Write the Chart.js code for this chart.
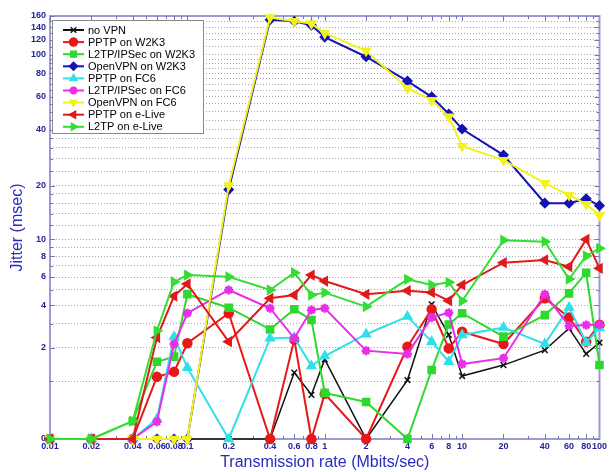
<!DOCTYPE html>
<html>
<head>
<meta charset="utf-8">
<script src="https://cdn.jsdelivr.net/npm/chart.js@4.4.0/dist/chart.umd.min.js"></script>
<style>
  html, body { margin: 0; padding: 0; background: #fff; }
</style>
</head>
<body>
<canvas id="chart" width="609" height="472"></canvas>
<script>
// Transmission rates (Mbits/sec)
const rates = [0.01, 0.02, 0.04, 0.06, 0.08, 0.1, 0.2, 0.4, 0.6, 0.8, 1, 2, 4, 6, 8, 10, 20, 40, 60, 80, 100];

// Jitter (msec) per setup
const noVpn       = [0, 0, 0, 0, 0, 0, 0, 0, 1.22, 0.7, 1.6, 0, 1.03, 4.04, 2.49, 1.13, 1.43, 1.91, 2.78, 1.78, 2.18];
const pptpW2k3    = [0, 0, 0, 1.11, 1.24, 2.16, 3.53, 0, 2.3, 0, 0.72, 0, 2.03, 3.75, 1.97, 2.63, 2.13, 4.42, 3.31, 2.22, 2.95];
const l2tpW2k3    = [0, 0, 0.24, 1.53, 1.69, 4.69, 3.84, 2.73, 3.75, 3.18, 0.74, 0.56, 0, 1.29, 2.96, 3.53, 2.42, 3.43, 4.75, 6.37, 1.43];
const openW2k3    = [0, 0, 0, 0, 0, 0, 19, 153, 150, 143, 124, 97.7, 72.7, 60, 48.6, 40.4, 29.3, 16, 16, 16.9, 15.5];
const pptpFc6     = [0, 0, 0, 0.27, 2.42, 1.35, 0, 2.35, 2.38, 1.4, 1.71, 2.52, 3.35, 2.22, 1.53, 2.49, 2.82, 2.13, 3.86, 2.18, 2.8];
const l2tpFc6     = [0, 0, 0, 0.23, 2.13, 3.53, 4.99, 3.81, 2.35, 3.71, 3.81, 1.89, 1.78, 3.31, 3.56, 1.46, 1.64, 4.69, 2.89, 2.93, 2.95];
const openFc6     = [0, 0, 0, 0, 0, 0, 20, 157, 150, 146, 130, 105, 66.5, 57.6, 47, 32.7, 27.5, 20.6, 17.7, 15.8, 13.7];
const pptpELive   = [0, 0, 0, 2.38, 4.57, 5.44, 2.22, 4.42, 4.64, 6.17, 5.67, 4.69, 4.94, 4.82, 4.27, 5.36, 7.31, 7.59, 6.92, 10, 6.77];
const l2tpELive   = [0, 0, 0.24, 2.67, 5.6, 6.17, 6.02, 4.99, 6.37, 4.64, 4.8, 3.9, 5.81, 5.36, 5.57, 4.25, 9.9, 9.7, 5.83, 8.01, 8.88];

// Axis ticks
const xTicks = [0.01, 0.02, 0.04, 0.06, 0.08, 0.1, 0.2, 0.4, 0.6, 0.8, 1, 2, 4, 6, 8, 10, 20, 40, 60, 80, 100];
const yLabels = [0, 2, 4, 6, 8, 10, 20, 40, 60, 80, 100, 120, 140, 160];
const yGrid = [0, 1, 2, 3, 4, 5, 6, 7, 8, 9, 10, 12, 14, 16, 18, 20, 24, 28, 32, 36, 40,
               45, 50, 55, 60, 65, 70, 75, 80, 85, 90, 95, 100, 110, 120, 130, 140, 150, 160];

const labelBlue = '#24249a';
const titleBlue = '#2a2ac0';
const frameBlue = '#9c9cd4';

// y axis in the original is log10(jitter + 1), so 0 sits on the bottom edge
class Log1pScale extends Chart.Scale {
  static id = 'log1p';
  static defaults = {};

  determineDataLimits() {
    this.min = this.options.min ?? 0;
    this.max = this.options.max ?? 160;
  }

  buildTicks() {
    return yGrid.map(v => ({ value: v }));
  }

  getLabelForValue(value) {
    return String(value);
  }

  configure() {
    super.configure();
    this._lo = Math.log10(this.min + 1);
    this._hi = Math.log10(this.max + 1);
  }

  getPixelForValue(value) {
    return this.getPixelForDecimal((Math.log10(value + 1) - this._lo) / (this._hi - this._lo));
  }

  getValueForPixel(pixel) {
    return Math.pow(10, this._lo + this.getDecimalForPixel(pixel) * (this._hi - this._lo)) - 1;
  }
}
Chart.register(Log1pScale);

const makeSet = (label, data, color, style, rotation, extra) => Object.assign({
  label: label,
  data: data,
  borderColor: color,
  backgroundColor: color,
  pointBackgroundColor: color,
  pointBorderColor: color,
  borderWidth: 2,
  pointStyle: style,
  pointRotation: rotation,
  pointRadius: 4.5,
  pointBorderWidth: 1.5,
  tension: 0,
  clip: false
}, extra || {});

const datasets = [
  makeSet('no VPN', noVpn, '#111111', 'crossRot', 0, { borderWidth: 1.5, pointRadius: 4 }),
  makeSet('PPTP on W2K3', pptpW2k3, '#e81818', 'circle', 0),
  makeSet('L2TP/IPSec on W2K3', l2tpW2k3, '#2ed82e', 'rect', 0, { pointRadius: 5 }),
  makeSet('OpenVPN on W2K3', openW2k3, '#1414b4', 'rectRot', 0),
  makeSet('PPTP on FC6', pptpFc6, '#2ee0e8', 'triangle', 0, { pointRadius: 5 }),
  makeSet('L2TP/IPSec on FC6', l2tpFc6, '#e82ee8', 'star', 0, { pointBorderWidth: 2.5 }),
  makeSet('OpenVPN on FC6', openFc6, '#f2f21e', 'triangle', 180, { pointRadius: 5 }),
  makeSet('PPTP on e-Live', pptpELive, '#e01a1a', 'triangle', -90, { pointRadius: 5 }),
  makeSet('L2TP on e-Live', l2tpELive, '#34dc34', 'triangle', 90, { pointRadius: 5 })
];
// later series are drawn over earlier ones, as in the original
datasets.forEach((ds, i) => { ds.order = -i; });

// frame with tick marks, and the boxed legend inside the plot
const framePlugin = {
  id: 'frame',
  beforeDatasetsDraw(chart) {
    const { ctx, chartArea: a, scales } = chart;
    ctx.save();
    ctx.strokeStyle = frameBlue;
    ctx.lineWidth = 2;
    ctx.strokeRect(a.left, a.top, a.right - a.left, a.bottom - a.top);

    ctx.lineWidth = 1;
    ctx.strokeStyle = '#7474b8';
    ctx.beginPath();
    // x ticks top and bottom, minor ones included
    for (let d = 0.01; d < 100; d *= 10) {
      for (let m = 1; m < 10; m++) {
        const x = Math.round(scales.x.getPixelForValue(d * m)) + 0.5;
        const len = xTicks.some(t => Math.abs(t - d * m) < 1e-9) ? 5 : 3;
        ctx.moveTo(x, a.bottom); ctx.lineTo(x, a.bottom - len);
        ctx.moveTo(x, a.top); ctx.lineTo(x, a.top + len);
      }
    }
    // y ticks left and right
    yGrid.forEach(v => {
      const y = Math.round(scales.y.getPixelForValue(v)) + 0.5;
      const len = yLabels.includes(v) ? 5 : 3;
      ctx.moveTo(a.left, y); ctx.lineTo(a.left + len, y);
      ctx.moveTo(a.right, y); ctx.lineTo(a.right - len, y);
    });
    ctx.stroke();
    ctx.restore();
  },
  afterDatasetsDraw(chart) {
    const ctx = chart.ctx;
    const x0 = 52, y0 = 20, w = 151, h = 113;
    ctx.save();
    ctx.fillStyle = '#ffffff';
    ctx.fillRect(x0, y0, w, h);
    ctx.strokeStyle = '#888888';
    ctx.lineWidth = 1;
    ctx.strokeRect(x0 + 0.5, y0 + 0.5, w, h);

    chart.data.datasets.forEach((ds, i) => {
      const y = 30 + i * 12.1;
      ctx.strokeStyle = ds.borderColor;
      ctx.lineWidth = 2;
      ctx.beginPath();
      ctx.moveTo(63, y);
      ctx.lineTo(84, y);
      ctx.stroke();

      ctx.fillStyle = ds.pointBackgroundColor;
      ctx.lineWidth = ds.pointBorderWidth;
      Chart.helpers.drawPoint(ctx, {
        pointStyle: ds.pointStyle,
        rotation: ds.pointRotation,
        radius: 4,
        borderWidth: ds.pointBorderWidth
      }, 73.5, y);

      ctx.fillStyle = '#000000';
      ctx.font = '11px "Liberation Sans", Arial, sans-serif';
      ctx.textBaseline = 'middle';
      ctx.textAlign = 'left';
      ctx.fillText(ds.label, 88, y + 0.5);
    });
    ctx.restore();
  }
};

const tickFont = { family: '"Liberation Sans", Arial, sans-serif', size: 9, weight: 'bold' };
const titleFont = { family: '"Liberation Sans", Arial, sans-serif', size: 16 };

new Chart(document.getElementById('chart'), {
  type: 'line',
  data: {
    labels: rates,
    datasets: datasets
  },
  options: {
    responsive: false,
    animation: false,
    layout: { padding: { top: 16, right: 7, left: 0, bottom: 0 } },
    plugins: {
      legend: { display: false },
      tooltip: { enabled: false }
    },
    scales: {
      x: {
        type: 'logarithmic',
        min: 0.01,
        max: 100,
        afterBuildTicks: (scale) => { scale.ticks = xTicks.map(v => ({ value: v })); },
        afterFit: (scale) => { scale.height = 33; },
        grid: { display: false, drawTicks: false },
        border: { display: false },
        ticks: {
          autoSkip: false,
          maxRotation: 0,
          padding: 2,
          color: labelBlue,
          font: tickFont,
          callback: (v) => String(v)
        },
        title: {
          display: true,
          text: 'Transmission rate (Mbits/sec)',
          color: titleBlue,
          font: titleFont,
          padding: { top: 0, bottom: 0 }
        }
      },
      y: {
        type: 'log1p',
        min: 0,
        max: 160,
        afterFit: (scale) => { scale.width = 50; },
        grid: {
          color: (c) => (c.tick && c.tick.value === 0 ? 'rgba(0,0,0,0)' : '#a8a8b8'),
          lineWidth: 1,
          drawTicks: false
        },
        border: { display: false, dash: [1, 2] },
        ticks: {
          autoSkip: false,
          padding: 4,
          color: labelBlue,
          font: tickFont,
          callback: (v) => (yLabels.includes(v) ? String(v) : '')
        },
        title: {
          display: true,
          text: 'Jitter (msec)',
          color: titleBlue,
          font: titleFont,
          padding: { top: 8, bottom: 0 }
        }
      }
    }
  },
  plugins: [framePlugin]
});
</script>
</body>
</html>
